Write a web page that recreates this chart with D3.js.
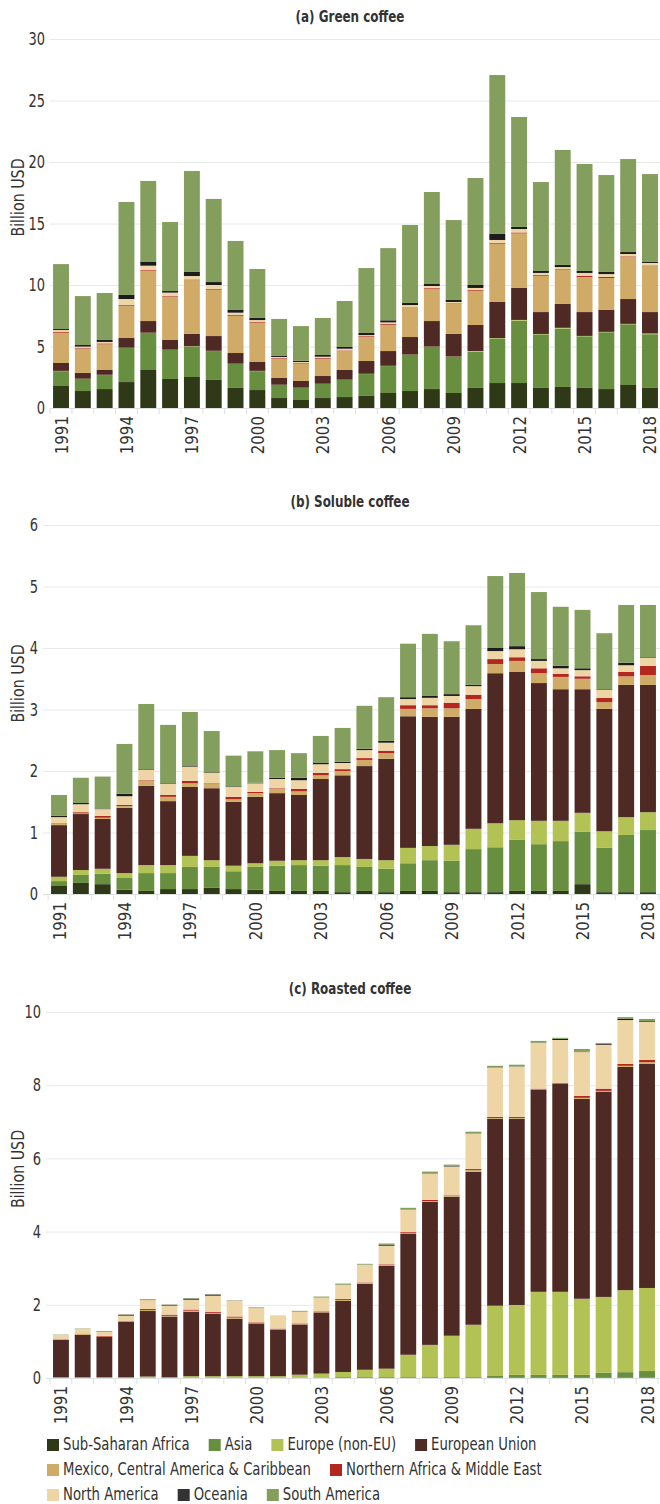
<!DOCTYPE html>
<html>
<head>
<meta charset="utf-8">
<script src="https://cdn.jsdelivr.net/npm/d3@7"></script>
<style>
body { margin: 0; background: #fff; }
svg text { font-family: "DejaVu Sans Condensed", "Liberation Sans Narrow", "DejaVu Sans", sans-serif; fill: #333; }
</style>
</head>
<body>
<svg width="660" height="1504"></svg>
<script>
var years = [1991,1992,1993,1994,1995,1996,1997,1998,1999,2000,2001,2002,2003,2004,
             2005,2006,2007,2008,2009,2010,2011,2012,2013,2014,2015,2016,2017,2018];
var labelYears = [1991,1994,1997,2000,2003,2006,2009,2012,2015,2018];

var regions = ["Sub-Saharan Africa", "Asia", "Europe (non-EU)", "European Union",
               "Mexico, Central America & Caribbean", "Northern Africa & Middle East",
               "North America", "Oceania", "South America"];
var colors = ["#2f3817", "#678f3f", "#b2c254", "#4f2923", "#cfab67", "#b3271f", "#eed5a6", "#1c1c1c", "#849f5d"];

// billion USD, one row per region (same order as regions)
var greenValues = [
  [1.79,1.38,1.54,2.11,3.09,2.36,2.52,2.28,1.63,1.46,0.81,0.65,0.81,0.89,0.98,1.22,1.38,1.54,1.22,1.63,2.03,2.03,1.63,1.71,1.63,1.54,1.87,1.63],
  [1.21,0.98,1.14,2.77,3.01,2.36,2.47,2.35,1.95,1.54,1.06,0.98,1.14,1.39,1.78,2.19,2.93,3.42,2.93,2.95,3.63,5.07,4.36,4.75,4.20,4.62,4.94,4.37],
  [0.02,0.02,0.02,0.02,0.02,0.02,0.03,0.02,0.02,0.02,0.02,0.02,0.02,0.02,0.02,0.02,0.03,0.03,0.03,0.05,0.03,0.06,0.03,0.06,0.03,0.03,0.03,0.06],
  [0.64,0.47,0.39,0.79,0.95,0.79,1.00,1.20,0.87,0.72,0.55,0.55,0.63,0.79,1.04,1.20,1.43,2.08,1.84,2.12,2.93,2.60,1.78,1.94,1.94,1.78,2.02,1.74],
  [2.46,1.95,2.09,2.63,4.10,3.52,4.38,3.77,3.03,3.20,1.57,1.42,1.41,1.54,1.98,2.12,2.36,2.60,2.44,2.76,4.74,4.44,2.93,2.76,2.85,2.60,3.42,3.74],
  [0.06,0.06,0.07,0.07,0.07,0.05,0.05,0.07,0.07,0.07,0.05,0.04,0.06,0.05,0.05,0.07,0.05,0.07,0.05,0.07,0.07,0.07,0.07,0.06,0.08,0.08,0.05,0.05],
  [0.16,0.13,0.12,0.47,0.33,0.28,0.28,0.31,0.18,0.14,0.09,0.08,0.10,0.14,0.08,0.14,0.19,0.18,0.11,0.18,0.23,0.28,0.18,0.18,0.25,0.24,0.19,0.20],
  [0.08,0.13,0.16,0.33,0.30,0.13,0.33,0.24,0.22,0.17,0.08,0.10,0.14,0.14,0.17,0.17,0.17,0.16,0.16,0.24,0.49,0.17,0.16,0.17,0.16,0.17,0.16,0.08],
  [5.28,3.98,3.82,7.56,6.59,5.61,8.21,6.76,5.61,3.98,3.01,2.82,3.01,3.74,5.28,5.87,6.34,7.48,6.50,8.70,12.92,8.94,7.23,9.35,8.70,7.88,7.56,7.15]
];

var solubleValues = [
  [0.13,0.18,0.16,0.07,0.05,0.08,0.08,0.10,0.08,0.07,0.05,0.05,0.05,0.03,0.05,0.03,0.05,0.05,0.03,0.03,0.03,0.05,0.05,0.05,0.16,0.03,0.03,0.03],
  [0.08,0.13,0.17,0.19,0.29,0.26,0.36,0.34,0.29,0.37,0.41,0.42,0.41,0.44,0.39,0.38,0.45,0.50,0.51,0.70,0.73,0.83,0.76,0.81,0.85,0.72,0.93,1.01],
  [0.07,0.08,0.08,0.08,0.13,0.13,0.18,0.11,0.09,0.06,0.08,0.08,0.09,0.13,0.13,0.14,0.25,0.23,0.26,0.33,0.39,0.32,0.38,0.33,0.31,0.27,0.29,0.29],
  [0.84,0.91,0.81,1.06,1.29,1.04,1.12,1.17,1.04,1.08,1.10,1.06,1.32,1.33,1.51,1.65,2.14,2.10,2.08,1.95,2.44,2.41,2.24,2.14,2.01,1.99,2.15,2.07],
  [0.02,0.01,0.02,0.03,0.08,0.07,0.06,0.07,0.04,0.06,0.07,0.06,0.06,0.07,0.10,0.09,0.12,0.14,0.14,0.16,0.15,0.18,0.16,0.20,0.17,0.11,0.14,0.16],
  [0.01,0.02,0.03,0.02,0.01,0.03,0.04,0.01,0.04,0.02,0.01,0.04,0.04,0.03,0.03,0.04,0.06,0.05,0.09,0.07,0.08,0.06,0.08,0.05,0.04,0.07,0.07,0.15],
  [0.10,0.13,0.11,0.14,0.17,0.18,0.23,0.17,0.16,0.14,0.15,0.14,0.14,0.10,0.13,0.13,0.10,0.12,0.11,0.14,0.13,0.13,0.12,0.09,0.10,0.13,0.11,0.13],
  [0.02,0.02,0.01,0.04,0.01,0.01,0.01,0.01,0.01,0.01,0.02,0.04,0.02,0.02,0.02,0.03,0.03,0.03,0.03,0.02,0.05,0.05,0.03,0.04,0.03,0.01,0.04,0.01],
  [0.34,0.41,0.52,0.81,1.06,0.95,0.88,0.67,0.50,0.51,0.45,0.40,0.44,0.55,0.70,0.71,0.87,1.01,0.86,0.97,1.17,1.19,1.09,0.96,0.95,0.91,0.94,0.85]
];

var roastedValues = [
  [0.005,0.005,0.005,0.005,0.005,0.005,0.005,0.005,0.005,0.005,0.005,0.005,0.005,0.005,0.005,0.005,0.005,0.005,0.005,0.005,0.005,0.005,0.005,0.005,0.005,0.005,0.01,0.01],
  [0.005,0.005,0.005,0.005,0.005,0.005,0.005,0.005,0.005,0.005,0.005,0.005,0.005,0.02,0.02,0.02,0.02,0.02,0.02,0.02,0.05,0.08,0.08,0.08,0.08,0.14,0.15,0.18],
  [0.01,0.01,0.01,0.01,0.03,0.01,0.04,0.04,0.04,0.04,0.04,0.08,0.11,0.14,0.20,0.23,0.61,0.88,1.13,1.43,1.92,1.91,2.27,2.27,2.08,2.07,2.24,2.27],
  [1.02,1.16,1.10,1.52,1.79,1.66,1.76,1.71,1.57,1.44,1.27,1.37,1.67,1.94,2.35,2.81,3.30,3.91,3.80,4.18,5.11,5.09,5.52,5.68,5.46,5.60,6.10,6.12],
  [0.03,0.03,0.01,0.01,0.03,0.02,0.03,0.02,0.03,0.01,0.01,0.01,0.01,0.03,0.03,0.02,0.02,0.02,0.05,0.05,0.02,0.02,0.01,0.01,0.03,0.03,0.03,0.05],
  [0.005,0.005,0.02,0.005,0.03,0.03,0.03,0.03,0.03,0.02,0.02,0.02,0.02,0.03,0.01,0.02,0.03,0.03,0.005,0.03,0.03,0.03,0.02,0.02,0.05,0.06,0.05,0.06],
  [0.10,0.13,0.11,0.15,0.24,0.25,0.27,0.44,0.43,0.39,0.35,0.32,0.38,0.38,0.48,0.51,0.61,0.71,0.77,0.96,1.34,1.37,1.25,1.17,1.20,1.20,1.20,1.04],
  [0,0,0.005,0.025,0.005,0.02,0.03,0.03,0.005,0,0,0.005,0.005,0.005,0.005,0.03,0.005,0.005,0.02,0.005,0.005,0.005,0.005,0.03,0.005,0.03,0.03,0.02],
  [0.01,0.01,0.02,0.005,0.02,0.005,0.005,0.005,0.005,0.02,0.005,0.02,0.02,0.03,0.02,0.03,0.05,0.06,0.03,0.05,0.05,0.05,0.05,0.03,0.08,0.02,0.05,0.06]
];

var greenTicks = [0, 5, 10, 15, 20, 25, 30];
var solubleTicks = [0, 1, 2, 3, 4, 5, 6];
var roastedTicks = [0, 2, 4, 6, 8, 10];

var svg = d3.select("svg");

// the original face is narrower than anything installed: squeeze glyphs horizontally
function squeeze(sel, factor) {
  sel.each(function() {
    var w = this.getComputedTextLength();
    d3.select(this)
        .attr("textLength", (w * factor).toFixed(1))
        .attr("lengthAdjust", "spacingAndGlyphs");
  });
}

function drawPanel(title, values, ticks, top, bottom, gridLeft, bandRange, titleY) {
  var x = d3.scaleBand()
      .domain(years)
      .range(bandRange)
      .paddingInner(0.27)
      .paddingOuter(0.14);
  var y = d3.scaleLinear()
      .domain([0, ticks[ticks.length - 1]])
      .range([bottom, top]);
  var right = 661;

  var g = svg.append("g");

  // gridlines + y labels
  g.append("g")
      .attr("transform", "translate(" + gridLeft + ",0)")
      .call(d3.axisLeft(y)
        .tickValues(ticks)
        .tickFormat(d3.format("d"))
        .tickSize(-(right - gridLeft))
        .tickPadding(5))
    .call(function(a) {
      a.select(".domain").remove();
      a.selectAll(".tick line").attr("stroke", "#e5eae8").attr("stroke-width", 1);
      a.selectAll(".tick text").attr("font-size", 18).attr("fill", "#333").attr("font-family", null);
      squeeze(a.selectAll(".tick text"), 0.8);
    });

  var rows = years.map(function(yr, i) {
    var r = { year: yr };
    regions.forEach(function(k, j) { r[k] = values[j][i]; });
    return r;
  });
  var series = d3.stack().keys(regions)(rows);

  g.selectAll("g.layer")
    .data(series)
    .enter().append("g")
      .attr("class", "layer")
      .attr("fill", function(d, i) { return colors[i]; })
    .selectAll("rect")
    .data(function(d) { return d; })
    .enter().append("rect")
      .attr("x", function(d) { return x(d.data.year); })
      .attr("y", function(d) { return y(d[1]); })
      .attr("width", x.bandwidth())
      .attr("height", function(d) { return y(d[0]) - y(d[1]); });

  // x axis: baseline, boundary ticks, rotated year labels
  var gap = x.step() - x.bandwidth();
  var bounds = years.map(function(yr) { return x(yr) - gap / 2; });
  bounds.push(x(years[years.length - 1]) + x.bandwidth() + gap / 2);

  g.append("line")
      .attr("x1", gridLeft).attr("x2", right)
      .attr("y1", bottom + 0.5).attr("y2", bottom + 0.5)
      .attr("stroke", "#dbe2e0");
  g.selectAll("line.btick")
    .data(bounds)
    .enter().append("line")
      .attr("class", "btick")
      .attr("x1", function(d) { return d; }).attr("x2", function(d) { return d; })
      .attr("y1", bottom).attr("y2", bottom + 6)
      .attr("stroke", "#dbe2e0");

  g.append("g")
      .attr("transform", "translate(0," + bottom + ")")
      .call(d3.axisBottom(x).tickValues(labelYears).tickSize(0))
    .call(function(a) {
      a.select(".domain").remove();
      a.selectAll(".tick text")
        .attr("font-size", 18)
        .attr("font-family", null)
        .attr("fill", "#333")
        .attr("transform", "rotate(-90)")
        .attr("text-anchor", "end")
        .attr("x", -8)
        .attr("y", 0)
        .attr("dy", "0.36em");
      squeeze(a.selectAll(".tick text"), 0.93);
    });

  g.append("text")
      .attr("x", 350)
      .attr("y", titleY)
      .attr("text-anchor", "middle")
      .attr("font-weight", "bold")
      .attr("font-size", 16)
      .text(title)
      .call(squeeze, 0.83);

  g.append("text")
      .attr("transform", "translate(24," + ((top + bottom) / 2 - 26) + ") rotate(-90)")
      .attr("text-anchor", "middle")
      .attr("font-size", 17)
      .text("Billion USD")
      .call(squeeze, 0.93);
}

drawPanel("(a) Green coffee", greenValues, greenTicks, 39, 408, 50, [50, 661], 22);
drawPanel("(b) Soluble coffee", solubleValues, solubleTicks, 525, 894, 43, [48, 659], 507);
drawPanel("(c) Roasted coffee", roastedValues, roastedTicks, 1012, 1378, 46, [50, 658], 994);

// legend, flowing rows
var legendRows = [[0, 1, 2, 3], [4, 5], [6, 7, 8]];
var legend = svg.append("g").attr("class", "legend");
legendRows.forEach(function(row, r) {
  var cx = 47, base = 1450 + r * 25;
  row.forEach(function(k) {
    var item = legend.append("g");
    item.append("rect")
        .attr("x", cx).attr("y", base - 11)
        .attr("width", 12).attr("height", 12)
        .attr("fill", k === 7 ? "#333" : colors[k]);
    var t = item.append("text")
        .attr("x", cx + 16).attr("y", base)
        .attr("font-size", 17.5)
        .text(regions[k])
        .call(squeeze, 0.84);
    cx += 16 + +t.attr("textLength") + 19;
  });
});
</script>
</body>
</html>
